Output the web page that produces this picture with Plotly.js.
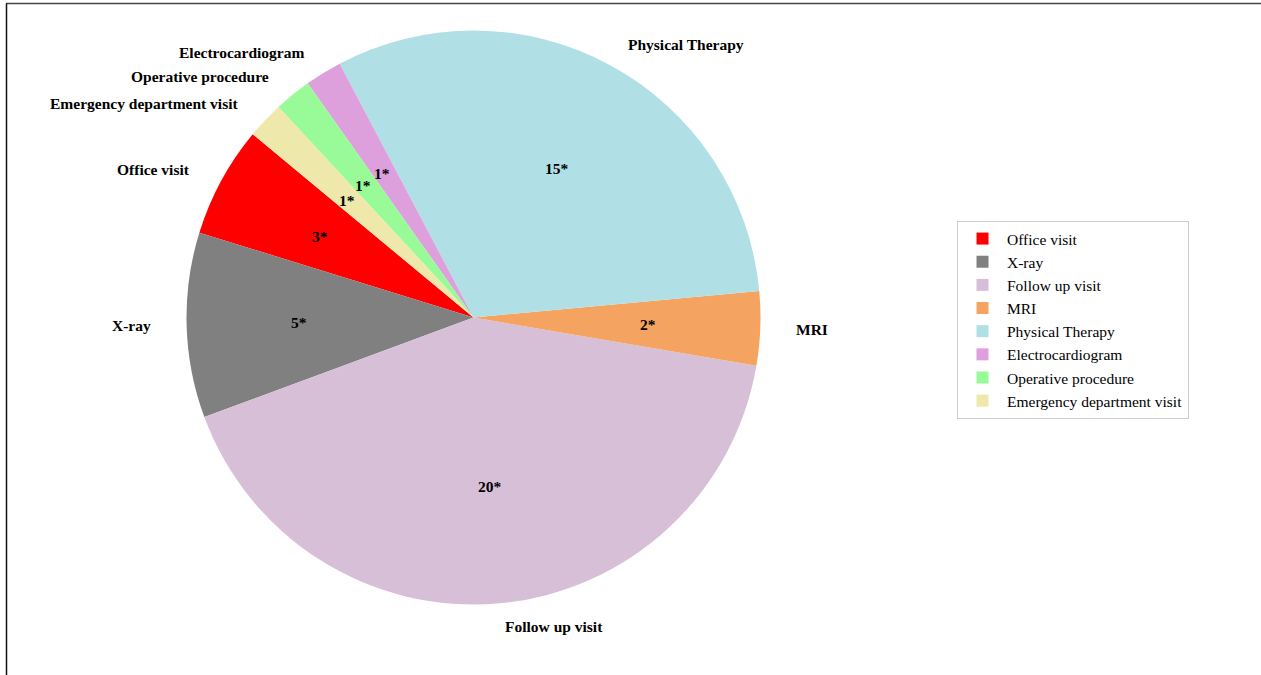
<!DOCTYPE html>
<html><head><meta charset="utf-8">
<script src="https://cdn.plot.ly/plotly-3.0.1.min.js"></script>
<style>html,body{margin:0;padding:0;background:#fff}</style>
</head><body><div id="chart" style="width:1261px;height:675px"></div>
<script>
// ---- data ----
const categories = ['Office visit','X-ray','Follow up visit','MRI','Physical Therapy','Electrocardiogram','Operative procedure','Emergency department visit'];
const visits = [3, 5, 20, 2, 15, 1, 1, 1];
const valueLabels = ['3*','5*','20*','2*','15*','1*','1*','1*'];
const sliceColors = ['#ff0000','#808080','#d8bfd8','#f4a460','#b0e0e6','#dda0dd','#98fb98','#eee8aa'];

// ---- layout geometry ----
const W = 1261, H = 675;
const cx = 473.5, cy = 317.5, R = 287;      // pie centre / radius in px
const RX = 291.5, RY = 282.5;               // label ellipse radii
const startAngle = 140.3;                   // degrees, ccw from 3 o'clock
const FONT = 'Liberation Serif, Times New Roman, serif';

const total = visits.reduce((a, b) => a + b, 0);
const firstDeg = visits[0] / total * 360;
const rotation = 90 - (startAngle + firstDeg);

const annotations = [];
let acc = 0;
visits.forEach((v, i) => {
  const deg = v / total * 360;
  const mid = (startAngle + acc + deg / 2) * Math.PI / 180;
  acc += deg;
  const c = Math.cos(mid), s = Math.sin(mid);
  // outer category label
  const ox = cx + 1.1 * RX * c, oy = cy - 1.1 * RY * s;
  annotations.push({
    xref: 'paper', yref: 'paper', x: ox / W, y: 1 - oy / H,
    text: '<b>' + categories[i] + '</b>', showarrow: false,
    xanchor: c >= 0 ? 'left' : 'right', yanchor: 'middle',
    font: {family: FONT, size: 15.5, color: '#000'}
  });
  // inner value label
  const ix = cx + 0.6 * RX * c, iy = cy - 0.6 * RY * s;
  annotations.push({
    xref: 'paper', yref: 'paper', x: ix / W, y: 1 - iy / H,
    text: '<b>' + valueLabels[i] + '</b>', showarrow: false,
    xanchor: 'center', yanchor: 'middle',
    font: {family: FONT, size: 15.5, color: '#000'}
  });
});

const trace = {
  type: 'pie',
  labels: categories,
  values: visits,
  sort: false,
  direction: 'counterclockwise',
  rotation: rotation,
  marker: {colors: sliceColors, line: {width: 0}},
  textinfo: 'none',
  hoverinfo: 'label+value',
  domain: {x: [(cx - R) / W, (cx + R) / W], y: [1 - (cy + R) / H, 1 - (cy - R) / H]}
};

const layout = {
  width: W, height: H,
  margin: {l: 0, r: 0, t: 0, b: 0},
  paper_bgcolor: '#fff',
  showlegend: true,
  legend: {
    x: 957 / W, y: 1 - 221 / H, xanchor: 'left', yanchor: 'top',
    bordercolor: '#cccccc', borderwidth: 1, bgcolor: '#fff',
    itemwidth: 39,
    font: {family: FONT, size: 15.5, color: '#000'}
  },
  annotations: annotations,
  shapes: [
    {type: 'line', xref: 'paper', yref: 'paper', x0: 6 / W, x1: 1, y0: 1 - 3.5 / H, y1: 1 - 3.5 / H, line: {color: '#444', width: 1.5}},
    {type: 'line', xref: 'paper', yref: 'paper', x0: 6.5 / W, x1: 6.5 / W, y0: 1 - 3.5 / H, y1: 0, line: {color: '#111', width: 1.5}}
  ]
};

Plotly.newPlot('chart', [trace], layout, {displayModeBar: false, staticPlot: true});
</script>
</body></html>
